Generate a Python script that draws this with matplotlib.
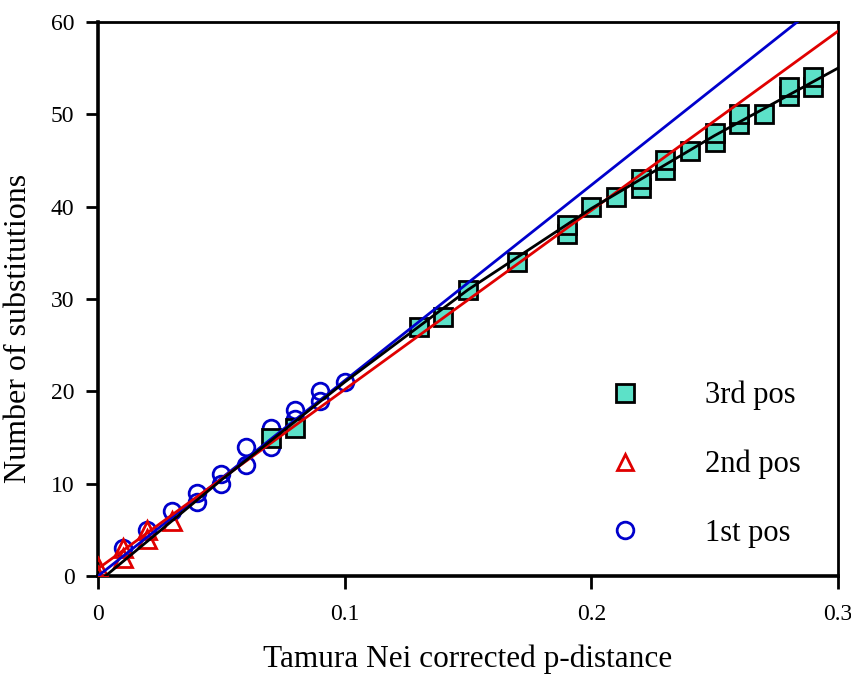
import matplotlib
matplotlib.use("Agg")
import matplotlib.pyplot as plt
from matplotlib.lines import Line2D

plt.rcParams['font.family'] = ['Liberation Serif', 'DejaVu Serif']

# 3rd codon position
pos3_x = [0.07, 0.08, 0.13, 0.14, 0.15, 0.17, 0.19, 0.19, 0.20, 0.21, 0.22, 0.22,
          0.23, 0.23, 0.24, 0.25, 0.25, 0.26, 0.26, 0.27, 0.28, 0.28, 0.29, 0.29]
pos3_y = [15, 16, 27, 28, 31, 34, 37, 38, 40, 41, 42, 43,
          44, 45, 46, 47, 48, 49, 50, 50, 52, 53, 53, 54]

# 2nd codon position
pos2_x = [0.00, 0.00, 0.01, 0.01, 0.02, 0.02, 0.03]
pos2_y = [0, 1, 2, 3, 4, 5, 6]

# 1st codon position
pos1_x = [0.01, 0.02, 0.03, 0.04, 0.04, 0.05, 0.05, 0.06, 0.06, 0.07, 0.07,
          0.08, 0.08, 0.09, 0.09, 0.10]
pos1_y = [3, 5, 7, 8, 9, 10, 11, 12, 14, 14, 16, 17, 18, 19, 20, 21]

# regression lines (end points)
blue_x = [0.0, 0.3]
blue_y = [0.0, 63.5]
red_x = [0.0, 0.3]
red_y = [0.8, 59.0]
# black curve through all points
black_x = [0.003, 0.05, 0.10, 0.15, 0.20, 0.25, 0.30]
black_y = [0.0, 10.4, 21.0, 31.0, 39.8, 47.7, 55.0]

sq_color = '#5ce1c8'
blue = '#0000cc'
red = '#e00000'

fig = plt.figure(figsize=(8.51, 6.78), dpi=100)
ax = fig.add_axes([0.1152, 0.1504, 0.8695, 0.8172])

ax.plot(pos1_x, pos1_y, 'o', ms=12, mfc='none', mec=blue, mew=2.0, zorder=2)
ax.plot(pos2_x, pos2_y, '^', ms=12.5, mfc='none', mec=red, mew=2.0, zorder=3)
ax.plot(pos3_x, pos3_y, 's', ms=12.5, mfc=sq_color, mec='black', mew=2.0, zorder=3)

ax.plot(blue_x, blue_y, color=blue, lw=2, zorder=4)
ax.plot(red_x, red_y, color=red, lw=2, zorder=4)
ax.plot(black_x, black_y, color='black', lw=2, zorder=5)

ax.set_xlim(0, 0.3)
ax.set_ylim(0, 60)
ax.set_xticks([0, 0.1, 0.2, 0.3])
ax.set_xticklabels(['0', '0.1', '0.2', '0.3'])
ax.set_yticks(range(0, 61, 10))

for side in ['left', 'bottom']:
    ax.spines[side].set_linewidth(2.6)
for side in ['top', 'right']:
    ax.spines[side].set_linewidth(2.0)
ax.tick_params(axis='both', direction='out', length=9, width=2.0, labelsize=17)
ax.tick_params(axis='x', pad=11)
ax.tick_params(axis='y', pad=8)

ax.set_xlabel('Tamura Nei corrected p-distance', fontsize=22.5, labelpad=14)
ax.set_ylabel('Number of substitutions', fontsize=23)
ax.yaxis.set_label_coords(-0.088, 0.446)

handles = [
    Line2D([], [], ls='none', marker='s', ms=12.5, mfc=sq_color, mec='black', mew=2.0),
    Line2D([], [], ls='none', marker='^', ms=12, mfc='none', mec=red, mew=2.0),
    Line2D([], [], ls='none', marker='o', ms=12, mfc='none', mec=blue, mew=2.0),
]
ax.legend(handles, ['3rd pos', '2nd pos', '1st pos'], loc='upper left',
          bbox_to_anchor=(0.671, 0.352), frameon=False, fontsize=22,
          handlelength=2, handletextpad=1.6, labelspacing=1.29,
          borderpad=0, borderaxespad=0)

fig.savefig('out.png', dpi=100)
